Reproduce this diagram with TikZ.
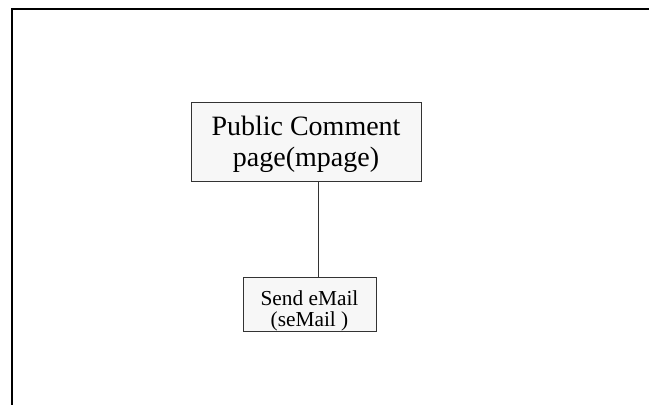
\documentclass[tikz,border=0pt]{standalone}
\usepackage{fontspec}
\setmainfont{Liberation Serif}
\begin{document}
\begin{tikzpicture}[x=0.75pt,y=-0.75pt,
  box/.style={draw=black!80,line width=0.75pt,fill=black!3,align=center,inner sep=0pt},
  bigbox/.style={box,minimum width=172.5pt,minimum height=59.25pt,font=\fontsize{21}{23.5}\selectfont},
  smallbox/.style={box,minimum width=99.75pt,minimum height=40.5pt,font=\fontsize{16}{15.5}\selectfont},
  frame/.style={draw=black,line width=1.5pt}]
\useasboundingbox (0,0) rectangle (649,405);
\coordinate (fa) at (649,9);
\coordinate (fb) at (12,405);
\draw[frame] (fa) -| (fb);
\node[bigbox] (mpage) at (306,141.5) {\rule{0pt}{19pt}Public Comment\\page(mpage)};
\node[smallbox] (semail) at (309.5,304) {\rule{0pt}{21pt}Send eMail\\(seMail )};
\draw[draw=black!80,line width=0.75pt] (mpage.south -| 318,0) -- (semail.north -| 318,0);
\end{tikzpicture}
\end{document}
